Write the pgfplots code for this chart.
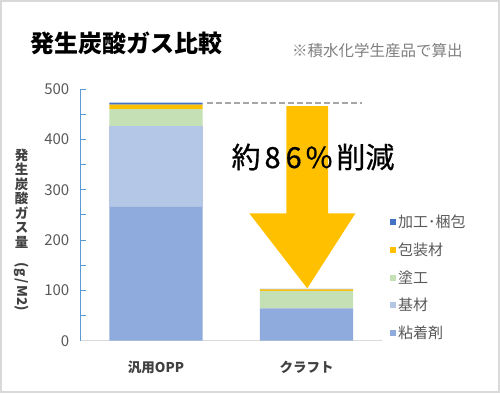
\documentclass[border=0pt]{standalone}
\usepackage{pgfplots}
\pgfplotsset{compat=1.18}
\usepackage{fontspec}
\setmainfont{Noto Sans CJK JP}
\newfontfamily\jpmed{Noto Sans CJK JP}[FakeBold=0.7]
\definecolor{cA}{HTML}{8FAADC}
\definecolor{cB}{HTML}{B4C7E7}
\definecolor{cC}{HTML}{C5E0B4}
\definecolor{cD}{HTML}{FFC000}
\definecolor{cE}{HTML}{4472C4}
\definecolor{axisblue}{HTML}{5B9BD5}
\definecolor{xaxisgray}{HTML}{D9D9D9}
\definecolor{txtgray}{HTML}{595959}
\definecolor{darkgray}{HTML}{404040}
\definecolor{subgray}{HTML}{7F7F7F}
\definecolor{dashgray}{HTML}{A6A6A6}
\definecolor{arrowyellow}{HTML}{FFC000}
\begin{document}
\begin{tikzpicture}[x=1bp,y=1bp]
\useasboundingbox (0,0) rectangle (500,393);
\draw[draw=black!15, line width=2bp] (1,1) rectangle (499,392);
\node[anchor=west, inner sep=0, font=\fontsize{24bp}{28bp}\selectfont\bfseries] at (30,349.7) {発生炭酸ガス比較};
\node[anchor=west, inner sep=0, text=subgray, font=\fontsize{15.5bp}{18bp}\selectfont] at (292,342.3) {※積水化学生産品で算出};
\node[inner sep=0, text=darkgray, font=\fontsize{13.5bp}{14.5bp}\selectfont\bfseries, align=center] at (21.7,163) {発\\生\\炭\\酸\\ガ\\ス\\量\\[1bp]\rotatebox{-90}{(g\kern2bp/\kern2bp M2)}};
\begin{axis}[
  at={(156bp,52.3bp)}, anchor=origin,
  scale only axis, width=301bp, height=251.7bp,
  xmin=-0.5, xmax=1.5, ymin=0, ymax=500,
  ybar stacked, bar width=0.62,
  clip=false,
  axis x line=bottom, axis y line=left,
  x axis line style={draw=xaxisgray, line width=1.5bp, -},
  y axis line style={draw=axisblue, line width=1.2bp, -},
  xtick={0,1}, xticklabels={汎用OPP, クラフト},
  xtick style={draw=none},
  ytick={0,100,...,500}, minor ytick={50,150,...,450},
  tick align=inside,
  major tick length=5bp, minor tick length=5bp,
  ytick style={draw=axisblue, line width=1bp},
  minor tick style={draw=axisblue, line width=1bp},
  /pgf/number format/assume math mode=true,
  yticklabel style={text=txtgray, font=\fontsize{15bp}{18bp}\selectfont, xshift=-8bp},
  xticklabel style={text=darkgray, font=\fontsize{13.5bp}{16bp}\selectfont\bfseries, yshift=-17bp},
  reverse legend,
  legend style={at={(1.027,0.507)}, anchor=north west, draw=none, fill=none,
    font=\fontsize{15bp}{18bp}\selectfont, text=txtgray, row sep=9.5bp, inner sep=0pt,
    cells={anchor=west}},
  legend image code/.code={\fill[#1] (0bp,-3bp) rectangle (6bp,3bp);},
]
\addplot[fill=cA, draw=none] coordinates {(0,266) (1,64)};
\addlegendentry{粘着剤}
\addplot[fill=cB, draw=none] coordinates {(0,160) (1,0)};
\addlegendentry{基材}
\addplot[fill=cC, draw=none] coordinates {(0,34) (1,35)};
\addlegendentry{塗工}
\addplot[fill=cD, draw=none] coordinates {(0,9) (1,3)};
\addlegendentry{包装材}
\addplot[fill=cE, draw=none] coordinates {(0,4) (1,0.8)};
\addlegendentry{加工･梱包}
\draw[dashgray, line width=2bp, dash pattern=on 6bp off 3bp] (axis cs:0.337,473) -- (axis cs:1.366,473);
\fill[arrowyellow] (axis cs:0.867,466) -- (axis cs:1.144,466) -- (axis cs:1.144,253) -- (axis cs:1.325,253) -- (axis cs:1.005,104) -- (axis cs:0.62,253) -- (axis cs:0.867,253) -- cycle;
\end{axis}
\node[font=\fontsize{29bp}{32bp}\jpmed\selectfont, text=black] at (313,236) {約\kern4bp 8\kern5bp 6\kern4bp\%\kern4bp 削減};
\end{tikzpicture}
\end{document}
